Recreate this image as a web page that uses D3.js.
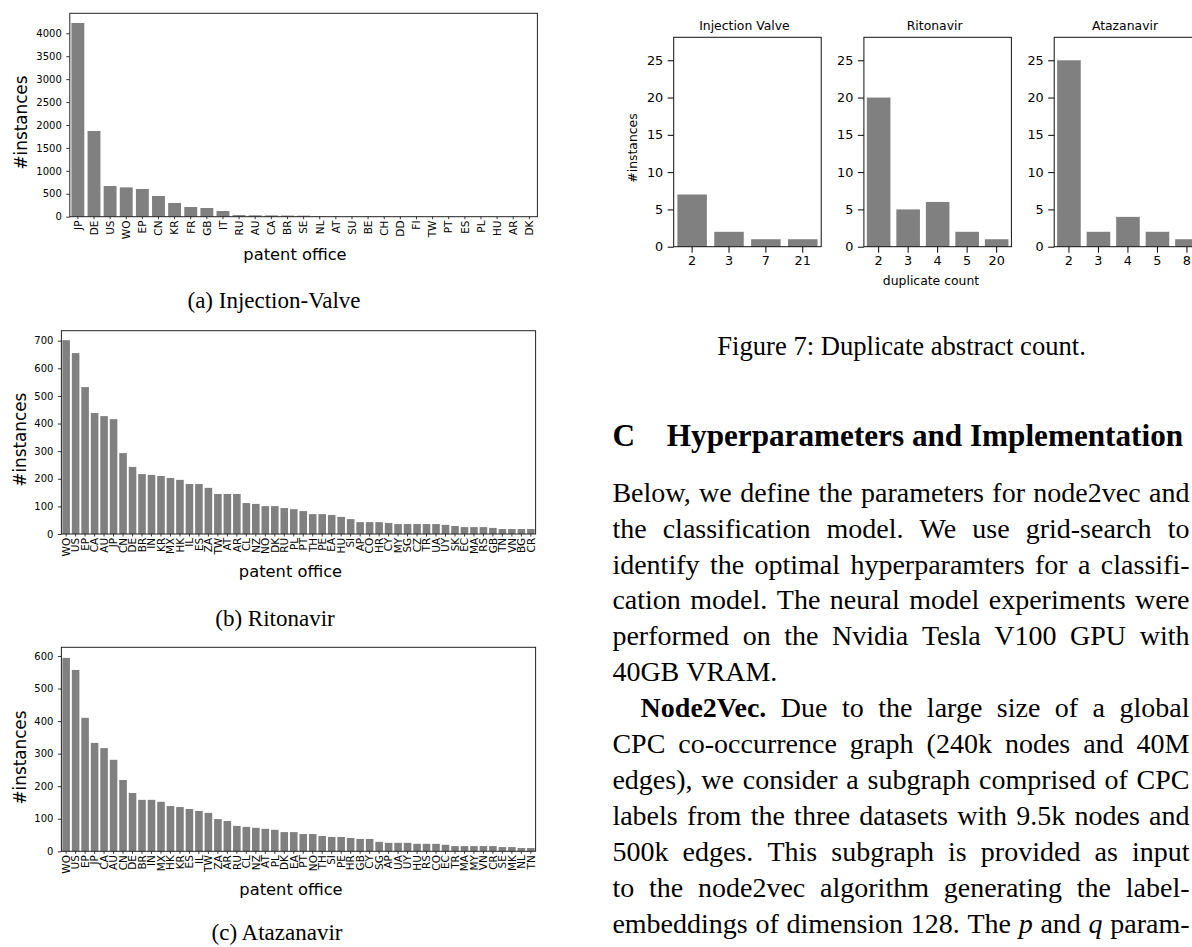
<!DOCTYPE html>
<html><head><meta charset="utf-8">
<script src="https://cdn.jsdelivr.net/npm/d3@7"></script>
<style>body{margin:0;background:#fff}svg{display:block}</style>
</head><body>
<svg id="c" width="1192" height="947"></svg>
<script>
// ---------------- DATA ----------------
const officeA = ["JP","DE","US","WO","EP","CN","KR","FR","GB","IT","RU","AU","CA","BR","SE","NL","AT","SU","BE","CH","DD","FI","TW","PT","ES","PL","HU","AR","DK"];
const countA  = [4225,1870,670,640,605,452,300,212,190,124,35,30,28,25,22,8,6,5,4,4,3,3,2,2,2,1,1,1,1];
const ticksA  = [0,500,1000,1500,2000,2500,3000,3500,4000];

const officeB = ["WO","US","EP","CA","AU","JP","CN","DE","BR","IN","KR","MX","HK","IL","ES","ZA","TW","AT","AR","CL","NZ","NO","DK","RU","PL","PT","TH","PE","EA","HU","SI","AP","CO","HR","CY","MY","SG","CZ","TR","UA","UY","SK","EC","MA","RS","GB","TN","VN","BG","CR"];
const countB  = [702,655,532,438,427,416,293,243,217,214,210,203,196,181,181,167,145,145,145,112,109,101,101,94,90,83,72,72,69,62,54,43,43,43,40,36,36,36,36,36,33,29,25,25,25,22,18,18,18,18];
const ticksB  = [0,100,200,300,400,500,600,700];

const officeC = ["WO","US","EP","JP","CA","AU","CN","DE","BR","IN","MX","HK","KR","ES","IL","TW","ZA","AR","RU","CL","NZ","AT","PL","DK","EA","PT","NO","TH","SI","PE","HR","GB","CY","SG","AP","UA","UY","HU","RS","CO","EC","TR","MA","MY","VN","CR","SE","MK","NL","TN"];
const countC  = [594,557,410,333,317,281,219,179,158,158,152,139,136,130,124,118,99,93,78,75,72,69,66,59,59,53,53,47,44,44,41,38,38,29,26,26,26,23,23,23,20,16,16,16,16,16,13,13,10,10];
const ticksC  = [0,100,200,300,400,500,600];

const dupTitles = ["Injection Valve","Ritonavir","Atazanavir"];
const dupCatsIV  = ["2","3","7","21"];      const dupValsIV  = [7,2,1,1];
const dupCatsRit = ["2","3","4","5","20"];  const dupValsRit = [20,5,6,2,1];
const dupCatsAta = ["2","3","4","5","8"];   const dupValsAta = [25,2,4,2,1];
const dupTicks = [0,5,10,15,20,25];

const captions = ["(a) Injection-Valve","(b) Ritonavir","(c) Atazanavir"];
const fig7Caption = "Figure 7: Duplicate abstract count.";
const headingNum = "C";
const headingText = "Hyperparameters and Implementation";
const bodyLines = [
  {t:"Below, we define the parameters for node2vec and", j:true},
  {t:"the classification model. We use grid-search to", j:true},
  {t:"identify the optimal hyperparamters for a classifi-", j:true},
  {t:"cation model. The neural model experiments were", j:true},
  {t:"performed on the Nvidia Tesla V100 GPU with", j:true},
  {t:"40GB VRAM.", j:false},
  {t:"**Node2Vec.** Due to the large size of a global", j:true, indent:true},
  {t:"CPC co-occurrence graph (240k nodes and 40M", j:true},
  {t:"edges), we consider a subgraph comprised of CPC", j:true},
  {t:"labels from the three datasets with 9.5k nodes and", j:true},
  {t:"500k edges. This subgraph is provided as input", j:true},
  {t:"to the node2vec algorithm generating the label-", j:true},
  {t:"embeddings of dimension 128. The _p_ and _q_ param-", j:true}
];

// ---------------- DRAW ----------------
const svg = d3.select("#c");
svg.append("rect").attr("width",1192).attr("height",947).attr("fill","#fff");
const SANS = "DejaVu Sans", SERIF = "Liberation Serif, Times New Roman, serif";
const BAR = "#808080";

function officeChart(cfg){
  const g = svg.append("g");
  const x = d3.scaleBand().domain(cfg.cats).range([cfg.left,cfg.right]).paddingInner(0.2).paddingOuter(0.1);
  const y = d3.scaleLinear().domain([0,cfg.yMax]).range([cfg.zero,cfg.top]);
  g.selectAll("rect.bar").data(cfg.vals).join("rect").attr("class","bar")
    .attr("x",(d,i)=>x(cfg.cats[i])).attr("width",x.bandwidth())
    .attr("y",d=>y(d)).attr("height",d=>cfg.zero-y(d)).attr("fill",BAR);
  const ya = g.append("g").attr("transform",`translate(${cfg.left},0)`)
    .call(d3.axisLeft(y).tickValues(cfg.ticks).tickSize(3.5).tickPadding(4.5).tickFormat(d3.format("d")));
  ya.select(".domain").remove();
  ya.selectAll("line").attr("stroke","#000").attr("stroke-width",0.8);
  ya.selectAll("text").attr("font-family",SANS).attr("font-size",10).attr("fill","#000");
  const xa = g.append("g").attr("transform",`translate(0,${cfg.zero})`)
    .call(d3.axisBottom(x).tickSize(2.5).tickPadding(1));
  xa.select(".domain").remove();
  xa.selectAll("line").attr("stroke","#000").attr("stroke-width",0.8);
  xa.selectAll("text").attr("font-family",SANS).attr("font-size",10.5).attr("fill","#000")
    .attr("transform","rotate(-90)").attr("text-anchor","end")
    .attr("x",-3.8).attr("y",0).attr("dy","0.36em");
  g.append("rect").attr("x",cfg.left).attr("y",cfg.top).attr("width",cfg.right-cfg.left)
    .attr("height",cfg.zero-cfg.top).attr("fill","none").attr("stroke","#222").attr("stroke-width",1);
  g.append("text").attr("x",cfg.xlabX).attr("y",cfg.xlabY).attr("text-anchor","middle")
    .attr("font-family",SANS).attr("font-size",16.3).text("patent office");
  g.append("text").attr("transform",`translate(${cfg.ylabX},${cfg.ylabY}) rotate(-90)`)
    .attr("text-anchor","middle").attr("dominant-baseline","central")
    .attr("font-family",SANS).attr("font-size",16.8).text("#instances");
  svg.append("text").attr("x",cfg.capX).attr("y",cfg.capY).attr("text-anchor","middle")
    .attr("font-family",SERIF).attr("font-size",23).text(cfg.caption);
}

officeChart({cats:officeA, vals:countA, ticks:ticksA, left:69.8, right:537.4, top:13.3, zero:216.7, yMax:4436,
  xlabX:295, xlabY:260, ylabX:21, ylabY:122.5, caption:captions[0], capX:274, capY:308});
officeChart({cats:officeB, vals:countB, ticks:ticksB, left:61.4, right:535.6, top:330.7, zero:534, yMax:736.2,
  xlabX:290.5, xlabY:577, ylabX:20, ylabY:439.7, caption:captions[1], capX:275, capY:626});
officeChart({cats:officeC, vals:countC, ticks:ticksC, left:61.4, right:535.6, top:647.3, zero:851.3, yMax:626.6,
  xlabX:291, xlabY:895, ylabX:20, ylabY:757.5, caption:captions[2], capX:277, capY:940});

// ---- Figure 7 ----
const dupPanels = [
  {cats:dupCatsIV, vals:dupValsIV, left:673.7},
  {cats:dupCatsRit, vals:dupValsRit, left:863.9},
  {cats:dupCatsAta, vals:dupValsAta, left:1054.2}
];
const PW = 147.5, PTOP = 37.3, PZERO = 246.7;
const yDup = d3.scaleLinear().domain([0,28.08]).range([PZERO,PTOP]);
dupPanels.forEach((p,pi)=>{
  const g = svg.append("g");
  const x = d3.scaleBand().domain(p.cats).range([p.left,p.left+PW]).paddingInner(0.2).paddingOuter(0.1);
  g.selectAll("rect.bar").data(p.vals).join("rect").attr("class","bar")
    .attr("x",(d,i)=>x(p.cats[i])).attr("width",x.bandwidth())
    .attr("y",d=>yDup(d)).attr("height",d=>PZERO-yDup(d)).attr("fill",BAR);
  const ya = g.append("g").attr("transform",`translate(${p.left},0)`)
    .call(d3.axisLeft(yDup).tickValues(dupTicks).tickSize(6).tickPadding(4.5));
  ya.select(".domain").remove();
  ya.selectAll("line").attr("stroke","#000").attr("stroke-width",1);
  ya.selectAll("text").attr("font-family",SANS).attr("font-size",12.8).attr("fill","#000");
  const xa = g.append("g").attr("transform",`translate(0,${PZERO})`)
    .call(d3.axisBottom(x).tickSize(6).tickPadding(3.5));
  xa.select(".domain").remove();
  xa.selectAll("line").attr("stroke","#000").attr("stroke-width",1);
  xa.selectAll("text").attr("font-family",SANS).attr("font-size",12.8).attr("fill","#000");
  g.append("rect").attr("x",p.left).attr("y",PTOP).attr("width",PW).attr("height",PZERO-PTOP)
    .attr("fill","none").attr("stroke","#111").attr("stroke-width",1);
  g.append("text").attr("x",p.left+PW/2-3).attr("y",29.5).attr("text-anchor","middle")
    .attr("font-family",SANS).attr("font-size",12.4).text(dupTitles[pi]);
});
svg.append("text").attr("x",931).attr("y",285).attr("text-anchor","middle")
  .attr("font-family",SANS).attr("font-size",12.4).text("duplicate count");
svg.append("text").attr("transform","translate(632.5,148) rotate(-90)")
  .attr("text-anchor","middle").attr("dominant-baseline","central")
  .attr("font-family",SANS).attr("font-size",12.4).text("#instances");

// ---- Right column text ----
svg.append("text").attr("x",901.6).attr("y",355).attr("text-anchor","middle")
  .attr("font-family",SERIF).attr("font-size",26.6).text(fig7Caption);
svg.append("text").attr("x",612.4).attr("y",446).attr("font-family",SERIF).attr("font-weight","bold")
  .attr("font-size",31.2).text(headingNum);
svg.append("text").attr("x",666.8).attr("y",446).attr("font-family",SERIF).attr("font-weight","bold")
  .attr("font-size",31.2).text(headingText);

const BODY_FS = 28, BODY_X = 612.4, BODY_R = 1189.5, BODY_Y0 = 501.6, BODY_LH = 35.95;
bodyLines.forEach((ln,li)=>{
  const y = BODY_Y0 + li*BODY_LH;
  const x0 = ln.indent ? 640.6 : BODY_X;
  const words = ln.t.split(/\s+/).map(w=>{
    let bold=false, ital=false, s=w;
    if (/^\*\*.*\*\*$/.test(s)) { bold=true; s=s.slice(2,-2); }
    if (/^_.*_$/.test(s)) { ital=true; s=s.slice(1,-1); }
    return {s,bold,ital};
  });
  const nodes = words.map(w=>svg.append("text").attr("y",y).attr("font-family",SERIF)
    .attr("font-size",BODY_FS).attr("font-weight",w.bold?"bold":"normal")
    .attr("font-style",w.ital?"italic":"normal").text(w.s));
  const widths = nodes.map(n=>n.node().getComputedTextLength());
  const total = d3.sum(widths);
  const gap = (ln.j && words.length>1) ? (BODY_R - x0 - total)/(words.length-1) : BODY_FS*0.25;
  let cx = x0;
  nodes.forEach((n,i)=>{ n.attr("x",cx); cx += widths[i] + gap; });
});
</script>
</body></html>
